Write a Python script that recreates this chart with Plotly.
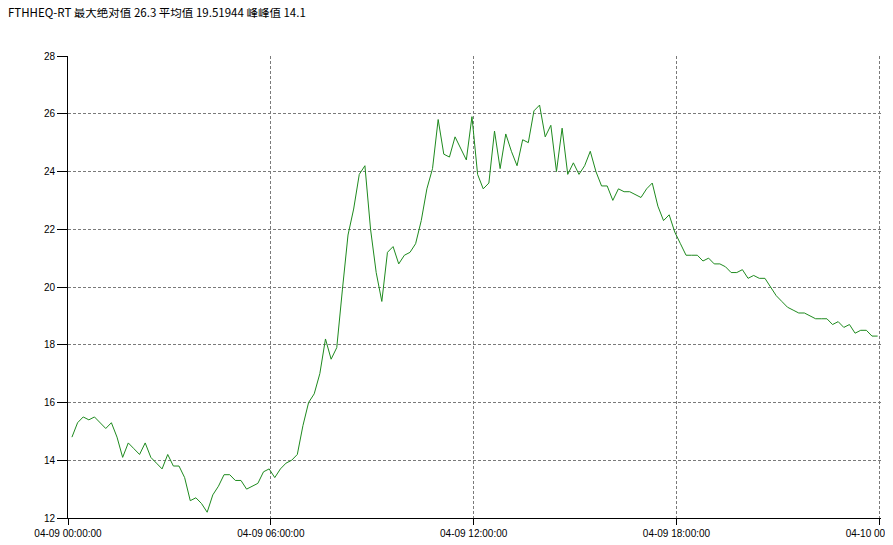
import pandas as pd
import plotly.graph_objects as go

title_text = "FTHHEQ-RT 最大绝对值 26.3 平均值 19.51944 峰峰值 14.1"

start_time = "2024-04-09 00:07"
step = "10min"

values = [
    14.8, 15.3, 15.5, 15.4, 15.5, 15.3, 15.1, 15.3, 14.8, 14.1,
    14.6, 14.4, 14.2, 14.6, 14.1, 13.9, 13.7, 14.2, 13.8, 13.8,
    13.4, 12.6, 12.7, 12.5, 12.2, 12.8, 13.1, 13.5, 13.5, 13.3,
    13.3, 13.0, 13.1, 13.2, 13.6, 13.7, 13.4, 13.7, 13.9, 14.0,
    14.2, 15.2, 16.0, 16.3, 17.0, 18.2, 17.5, 17.9, 19.9, 21.8,
    22.7, 23.9, 24.2, 22.0, 20.5, 19.5, 21.2, 21.4, 20.8, 21.1,
    21.2, 21.5, 22.3, 23.4, 24.1, 25.8, 24.6, 24.5, 25.2, 24.8,
    24.4, 25.9, 23.9, 23.4, 23.6, 25.4, 24.1, 25.3, 24.7, 24.2,
    25.1, 25.0, 26.1, 26.3, 25.2, 25.6, 24.0, 25.5, 23.9, 24.3,
    23.9, 24.2, 24.7, 24.0, 23.5, 23.5, 23.0, 23.4, 23.3, 23.3,
    23.2, 23.1, 23.4, 23.6, 22.8, 22.3, 22.5, 21.9, 21.5, 21.1,
    21.1, 21.1, 20.9, 21.0, 20.8, 20.8, 20.7, 20.5, 20.5, 20.6,
    20.3, 20.4, 20.3, 20.3, 20.0, 19.7, 19.5, 19.3, 19.2, 19.1,
    19.1, 19.0, 18.9, 18.9, 18.9, 18.7, 18.8, 18.6, 18.7, 18.4,
    18.5, 18.5, 18.3, 18.3,
]

x_range = ["2024-04-09 00:00:00", "2024-04-10 00:03:00"]
x_tickvals = ["2024-04-09 00:00:00", "2024-04-09 06:00:00", "2024-04-09 12:00:00",
              "2024-04-09 18:00:00", "2024-04-10 00:00:00"]
x_ticktext = ["04-09 00:00:00", "04-09 06:00:00", "04-09 12:00:00",
              "04-09 18:00:00", "04-10 00:00:00"]
y_range = [12, 28]
y_tickvals = [12, 14, 16, 18, 20, 22, 24, 26, 28]

times = pd.date_range(start_time, periods=len(values), freq=step)

fig = go.Figure()
fig.add_trace(go.Scatter(
    x=times, y=values, mode="lines",
    line=dict(color="#1e8a1e", width=1),
    hoverinfo="x+y", showlegend=False,
))

axis_font = dict(family="Liberation Sans, Arial, sans-serif", size=10, color="#000000")

# The page body has an 8px margin, so the figure is sized/offset to compensate.
fig.update_layout(
    width=885, height=537,
    margin=dict(l=60, r=12, t=48, b=27, autoexpand=False),
    paper_bgcolor="white", plot_bgcolor="white",
    title=dict(
        text=title_text, xref="container", yref="container",
        x=0, y=1 - 5 / 537, xanchor="left", yanchor="middle",
        pad=dict(l=0, r=0, t=0, b=0),
        font=dict(family="Noto Sans CJK SC, sans-serif", size=11.5, color="#000000"),
    ),
    xaxis=dict(
        type="date", range=x_range, automargin=False,
        tickmode="array", tickvals=x_tickvals, ticktext=x_ticktext,
        ticklabeloverflow="allow",
        showline=True, linecolor="#000000", linewidth=1,
        ticks="outside", ticklen=6, tickcolor="#000000",
        showgrid=True, gridcolor="#7a7a7a", gridwidth=1, griddash="3px,2px",
        zeroline=False, tickfont=axis_font,
    ),
    yaxis=dict(
        range=y_range, tickvals=y_tickvals, automargin=False,
        showline=True, linecolor="#000000", linewidth=1,
        ticks="outside", ticklen=10, tickcolor="#000000",
        showgrid=True, gridcolor="#7a7a7a", gridwidth=1, griddash="3px,2px",
        zeroline=False, tickfont=axis_font,
    ),
)

fig.write_html("out.html")
